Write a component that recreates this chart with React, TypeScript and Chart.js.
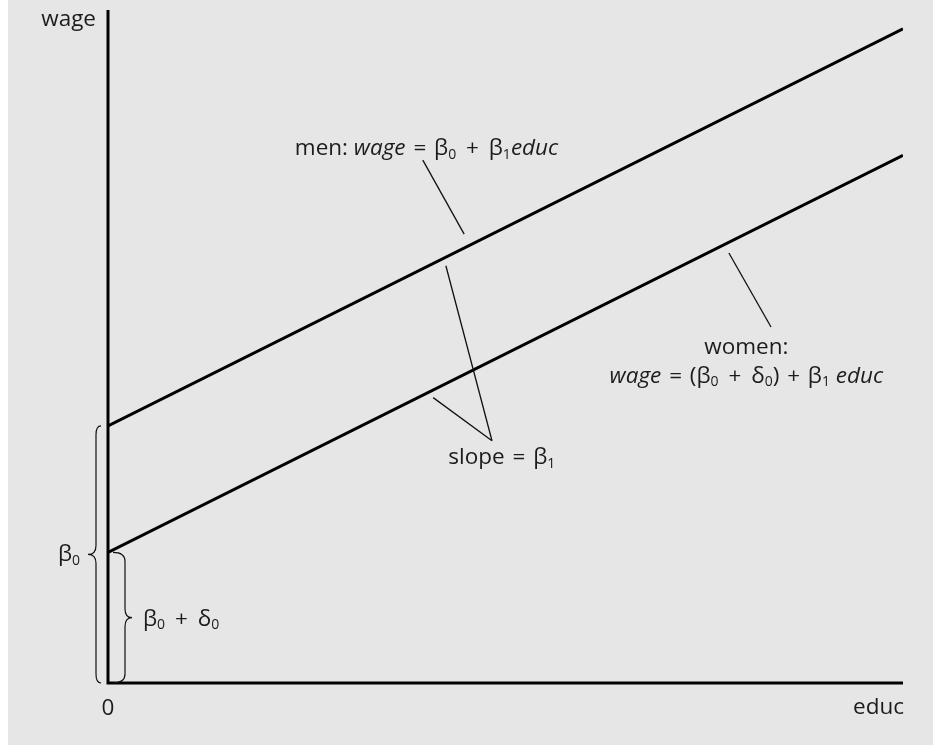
import React, { useEffect, useRef } from 'react';
import { Chart, registerables } from 'chart.js';

Chart.register(...registerables);

// ---- data ----
const educ = [0, 10];
const menWage = [3.82, 9.72];
const womenWage = [1.94, 7.84];
const xTickLabels = ['0'];
const xTickValues = [0];
const xAxisTitle = 'educ';
const yAxisTitle = 'wage';
const xRange = [0, 10];
const yRange = [0, 10];

// leader lines (data units)
const menPointer = [[3.96, 7.77], [4.48, 6.67]];
const womenPointer = [[7.81, 6.39], [8.34, 5.29]];
const slopePointerA = [[4.25, 6.2], [4.83, 3.6]];
const slopePointerB = [[4.09, 4.24], [4.83, 3.6]];

type Seg = { t: string; i?: boolean; sub?: boolean; g?: number };

const mathPlus: Seg[] = [{ t: ' ', g: 4 }, { t: '+', g: 4 }, { t: ' ' }];
const textPlus: Seg[] = [{ t: ' ', g: 2 }, { t: '+', g: 2 }, { t: ' ' }];
const equals: Seg[] = [{ t: ' ', g: 2 }, { t: '=', g: 2 }, { t: ' ' }];

const menLabel: Seg[] = [
  { t: 'men: ' }, { t: 'wage', i: true }, ...equals, { t: 'β' }, { t: '0', sub: true },
  ...mathPlus, { t: 'β' }, { t: '1', sub: true }, { t: 'educ', i: true },
];
const womenLabel1: Seg[] = [{ t: 'women:' }];
const womenLabel2: Seg[] = [
  { t: 'wage', i: true }, ...equals, { t: '(β' }, { t: '0', sub: true }, ...mathPlus, { t: 'δ' },
  { t: '0', sub: true }, { t: ')' }, ...textPlus, { t: 'β' }, { t: '1', sub: true }, { t: ' ' }, { t: 'educ', i: true },
];
const slopeLabel: Seg[] = [{ t: 'slope' }, ...equals, { t: 'β' }, { t: '1', sub: true }];
const menInterceptLabel: Seg[] = [{ t: 'β' }, { t: '0', sub: true }];
const womenInterceptLabel: Seg[] = [{ t: 'β' }, { t: '0', sub: true }, ...mathPlus, { t: 'δ' }, { t: '0', sub: true }];

// label anchors (data units)
const menLabelPos = [2.35, 7.845];
const womenLabel1Pos = [8.03, 4.89];
const womenLabel2Pos = [8.03, 4.46];
const slopeLabelPos = [4.28, 3.25];

const FONT = '"Open Sans", "DejaVu Sans", sans-serif';
const FS = 22.5;
const TEXT = '#1c1c1c';

function drawRich(ctx: CanvasRenderingContext2D, segs: Seg[], x: number, y: number, align: 'left' | 'center' | 'right', size: number) {
  const fontFor = (s: Seg) => `${s.i ? 'italic ' : ''}${s.sub ? Math.round(size * 0.6) : size}px ${FONT}`;
  const widths = segs.map((s) => { ctx.font = fontFor(s); return ctx.measureText(s.t).width + (s.g || 0); });
  const total = widths.reduce((a, b) => a + b, 0);
  let cx = align === 'center' ? x - total / 2 : align === 'right' ? x - total : x;
  ctx.textAlign = 'left';
  ctx.textBaseline = 'alphabetic';
  ctx.fillStyle = TEXT;
  segs.forEach((s, k) => {
    ctx.font = fontFor(s);
    ctx.fillText(s.t, cx, y + (s.sub ? size * 0.16 : 0));
    cx += widths[k];
  });
}

function brace(ctx: CanvasRenderingContext2D, x0: number, yTop: number, yBot: number, dir: number, tip: number, end: number, r: number) {
  const yMid = (yTop + yBot) / 2;
  ctx.beginPath();
  ctx.moveTo(x0 - dir * end, yTop);
  ctx.quadraticCurveTo(x0, yTop, x0, yTop + r);
  ctx.lineTo(x0, yMid - r);
  ctx.quadraticCurveTo(x0, yMid, x0 + dir * tip, yMid);
  ctx.quadraticCurveTo(x0, yMid, x0, yMid + r);
  ctx.lineTo(x0, yBot - r);
  ctx.quadraticCurveTo(x0, yBot, x0 - dir * end, yBot);
  ctx.stroke();
}

const decorPlugin = {
  id: 'decor',
  beforeDatasetsDraw(chart: any) {
    const { ctx, scales } = chart;
    const xs = scales.x, ys = scales.y;
    const x0 = xs.getPixelForValue(xRange[0]);
    const x1 = xs.getPixelForValue(xRange[1]);
    const y0 = ys.getPixelForValue(yRange[0]);
    const y1 = ys.getPixelForValue(yRange[1]);
    ctx.save();
    ctx.strokeStyle = '#000';
    ctx.lineWidth = 3;
    ctx.lineJoin = 'miter';
    ctx.beginPath();
    ctx.moveTo(x0, y1);
    ctx.lineTo(x0, y0);
    ctx.lineTo(x1, y0);
    ctx.stroke();
    ctx.restore();
  },
  afterDatasetsDraw(chart: any) {
    const { ctx, scales } = chart;
    const xs = scales.x, ys = scales.y;
    const px = (v: number) => xs.getPixelForValue(v);
    const py = (v: number) => ys.getPixelForValue(v);
    const ax = px(xRange[0]);
    const ay = py(yRange[0]);
    ctx.save();

    // axis texts
    ctx.fillStyle = TEXT;
    ctx.font = `${FS}px ${FONT}`;
    ctx.textBaseline = 'alphabetic';
    ctx.textAlign = 'right';
    ctx.fillText(yAxisTitle, ax - 12, py(yRange[1]) + 16);
    ctx.textAlign = 'center';
    xTickLabels.forEach((l, k) => ctx.fillText(l, px(xTickValues[k]), ay + 32));
    ctx.textAlign = 'right';
    ctx.fillText(xAxisTitle, px(xRange[1]) + 1, ay + 31);

    // leader lines
    ctx.strokeStyle = '#111';
    ctx.lineWidth = 1.3;
    [menPointer, womenPointer, slopePointerA, slopePointerB].forEach((seg) => {
      ctx.beginPath();
      ctx.moveTo(px(seg[0][0]), py(seg[0][1]));
      ctx.lineTo(px(seg[1][0]), py(seg[1][1]));
      ctx.stroke();
    });

    // braces
    ctx.lineWidth = 1.2;
    const yMen = py(menWage[0]);
    const yWomen = py(womenWage[0]);
    brace(ctx, ax - 12, yMen, ay, -1, 8, 5, 9);
    brace(ctx, ax + 17, yWomen, ay, 1, 7, 12, 9);

    // labels
    drawRich(ctx, menLabel, px(menLabelPos[0]), py(menLabelPos[1]), 'left', FS);
    drawRich(ctx, womenLabel1, px(womenLabel1Pos[0]), py(womenLabel1Pos[1]), 'center', FS);
    drawRich(ctx, womenLabel2, px(womenLabel2Pos[0]), py(womenLabel2Pos[1]), 'center', FS);
    drawRich(ctx, slopeLabel, px(slopeLabelPos[0]), py(slopeLabelPos[1]), 'left', FS);
    drawRich(ctx, menInterceptLabel, ax - 28, (yMen + ay) / 2 + 7, 'right', FS);
    drawRich(ctx, womenInterceptLabel, ax + 35, (yWomen + ay) / 2 + 8, 'left', FS);

    ctx.restore();
  },
};

export default function App() {
  const ref = useRef<HTMLCanvasElement | null>(null);
  useEffect(() => {
    if (!ref.current) return;
    const chart = new Chart(ref.current, {
      type: 'line',
      data: {
        datasets: [
          {
            label: 'men',
            data: educ.map((x, k) => ({ x, y: menWage[k] })),
            borderColor: '#000',
            borderWidth: 3,
            pointRadius: 0,
            fill: false,
            tension: 0,
          },
          {
            label: 'women',
            data: educ.map((x, k) => ({ x, y: womenWage[k] })),
            borderColor: '#000',
            borderWidth: 3,
            pointRadius: 0,
            fill: false,
            tension: 0,
          },
        ],
      },
      options: {
        responsive: false,
        animation: false,
        devicePixelRatio: 1,
        layout: { padding: { left: 100, right: 30, top: 10, bottom: 62 } },
        plugins: { legend: { display: false }, tooltip: { enabled: false } },
        scales: {
          x: { type: 'linear', min: xRange[0], max: xRange[1], display: false },
          y: { type: 'linear', min: yRange[0], max: yRange[1], display: false },
        },
      },
      plugins: [decorPlugin],
    });
    return () => chart.destroy();
  }, []);
  return (
    <div style={{ position: 'absolute', left: 8, top: 0, width: 925, height: 745, background: '#e6e6e6' }}>
      <canvas ref={ref} width={925} height={745} style={{ display: 'block', width: 925, height: 745 }} />
    </div>
  );
}
